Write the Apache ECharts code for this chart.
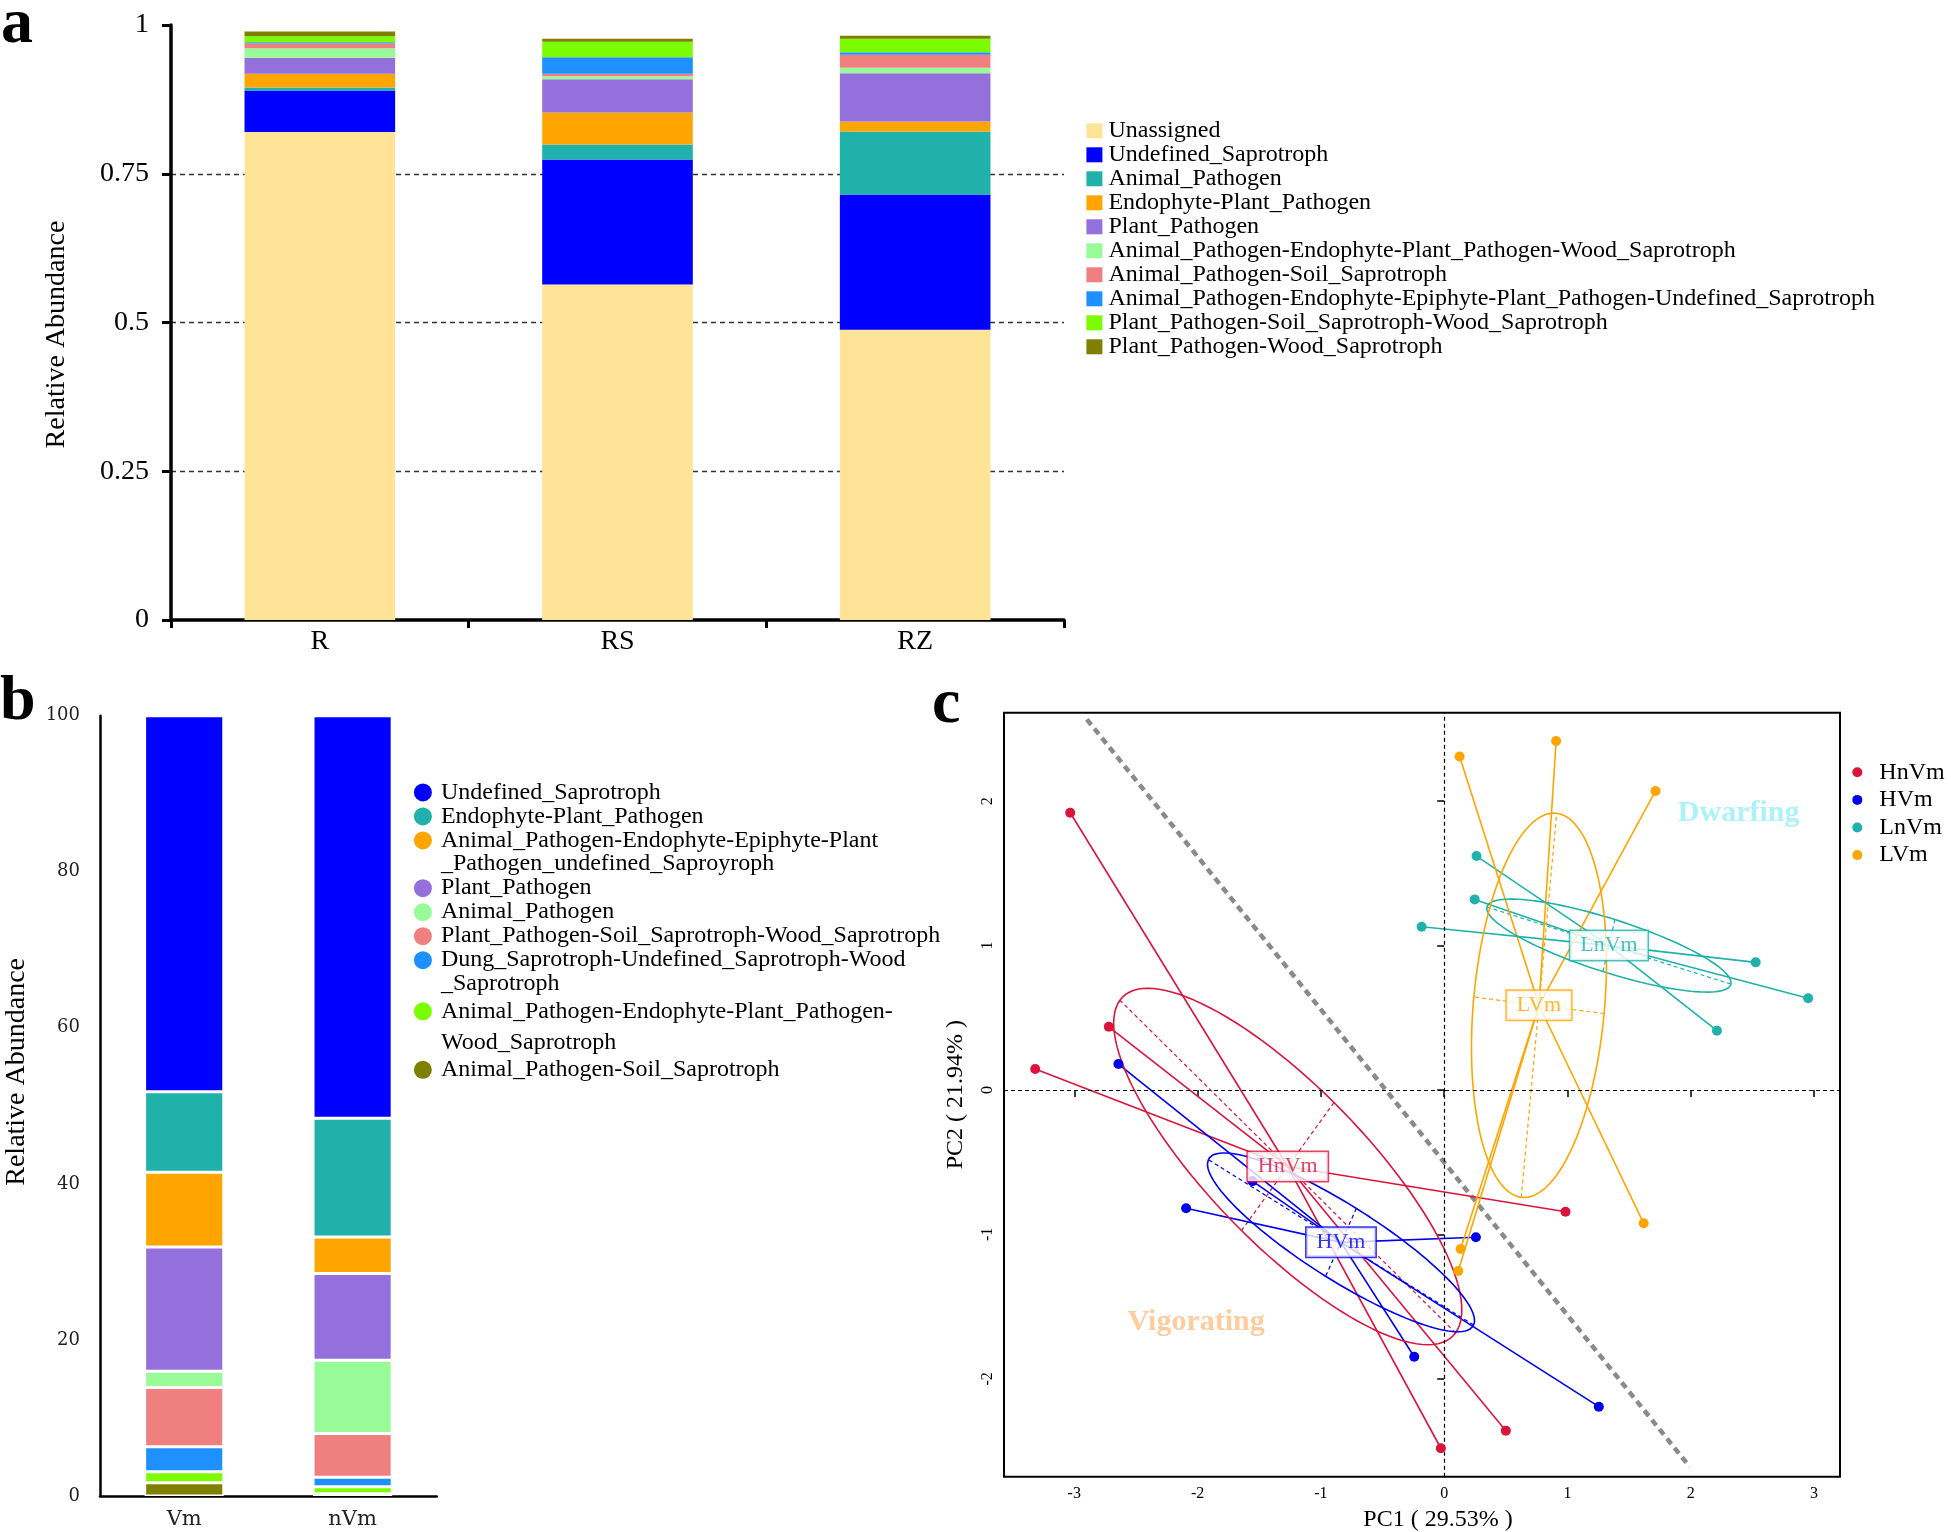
<!DOCTYPE html>
<html><head><meta charset="utf-8">
<script src="https://cdn.jsdelivr.net/npm/echarts@6/dist/echarts.min.js"></script>
<style>html,body{margin:0;padding:0;background:#fff}#c{width:1951px;height:1532px}</style>
</head><body><div id="c"></div>
<script>
// ---------------- Panel a data ----------------
const aCategories = ['R', 'RS', 'RZ'];
const aGuildNames = ['Unassigned', 'Undefined_Saprotroph', 'Animal_Pathogen', 'Endophyte-Plant_Pathogen', 'Plant_Pathogen',
  'Animal_Pathogen-Endophyte-Plant_Pathogen-Wood_Saprotroph', 'Animal_Pathogen-Soil_Saprotroph',
  'Animal_Pathogen-Endophyte-Epiphyte-Plant_Pathogen-Undefined_Saprotroph',
  'Plant_Pathogen-Soil_Saprotroph-Wood_Saprotroph', 'Plant_Pathogen-Wood_Saprotroph'];
const aUnassigned = [0.820, 0.564, 0.488];
const aUndefinedSaprotroph = [0.070, 0.210, 0.227];
const aAnimalPathogen = [0.005, 0.025, 0.106];
const aEndophytePlantPathogen = [0.023, 0.054, 0.017];
const aPlantPathogen = [0.027, 0.056, 0.081];
const aAPEndoPPWood = [0.016, 0.005, 0.009];
const aAPSoil = [0.008, 0.004, 0.022];
const aAPEndoEpiPPUndef = [0.002, 0.028, 0.004];
const aPPSoilWood = [0.010, 0.026, 0.023];
const aPPWood = [0.008, 0.005, 0.005];
const aYTicks = [0, 0.25, 0.5, 0.75, 1];

// ---------------- Panel b data (legend order, top of stack first) ----------------
const bCategories = ['Vm', 'nVm'];
const bNames = ['Undefined_Saprotroph', 'Endophyte-Plant_Pathogen',
  'Animal_Pathogen-Endophyte-Epiphyte-Plant\n_Pathogen_undefined_Saproyroph', 'Plant_Pathogen', 'Animal_Pathogen',
  'Plant_Pathogen-Soil_Saprotroph-Wood_Saprotroph', 'Dung_Saprotroph-Undefined_Saprotroph-Wood\n_Saprotroph',
  'Animal_Pathogen-Endophyte-Plant_Pathogen-\nWood_Saprotroph', 'Animal_Pathogen-Soil_Saprotroph'];
const bUndefinedSaprotroph = [48.2, 51.6];
const bEndophytePlantPathogen = [10.3, 15.2];
const bAPEndoEpiPPUndef = [9.6, 4.7];
const bPlantPathogen = [15.9, 11.1];
const bAnimalPathogen = [2.1, 9.4];
const bPPSoilWood = [7.6, 5.6];
const bDungUndefWood = [3.2, 1.2];
const bAPEndoPPWood = [1.4, 0.9];
const bAPSoil = [1.7, 0.3];

// ---------------- Panel c data ----------------
const pcaGroups = ['HnVm', 'HVm', 'LnVm', 'LVm'];
const hnvmPC1 = [-3.033, -2.720, -3.317, 0.984, 0.500, -0.027];
const hnvmPC2 = [1.920, 0.438, 0.145, -0.843, -2.359, -2.481];
const hvmPC1 = [-2.642, -2.093, -1.555, -0.243, 0.257, 1.254];
const hvmPC2 = [0.180, -0.819, -0.631, -1.847, -1.020, -2.193];
const lnvmPC1 = [-0.183, 0.262, 0.247, 2.526, 2.952, 2.212];
const lnvmPC2 = [1.131, 1.620, 1.320, 0.884, 0.635, 0.411];
const lvmPC1 = [0.125, 0.908, 1.714, 1.618, 0.133, 0.114];
const lvmPC2 = [2.310, 2.417, 2.071, -0.923, -1.101, -1.253];
const pc1Ticks = [-3, -2, -1, 0, 1, 2, 3];
const pc2Ticks = [-2, -1, 0, 1, 2];
const dividerPC1 = [-2.898, 1.991];
const dividerPC2 = [2.567, -2.609];
const annotText = ['Dwarfing', 'Vigorating'];
const annotPC1 = [2.388, -2.012];
const annotPC2 = [1.916, -1.609];

// ---------------- styles ----------------
const FONT = '"Liberation Serif","Times New Roman",Times,serif';
const WIDE = '"DejaVu Serif",serif';
const aColors = ['#FFE497', '#0000FF', '#20B2AA', '#FFA500', '#9370DB', '#98FB98', '#F08080', '#1E90FF', '#7CFC00', '#808000'];
const bColors = ['#0000FF', '#20B2AA', '#FFA500', '#9370DB', '#98FB98', '#F08080', '#1E90FF', '#7CFC00', '#808000'];
const pcaColors = ['#DC143C', '#0000EE', '#20B2AA', '#FFA500'];
const annotColors = ['#97F0F8', '#FFBF86'];
const ELLIPSE_SCALE = 0.79;

const aValues = [aUnassigned, aUndefinedSaprotroph, aAnimalPathogen, aEndophytePlantPathogen, aPlantPathogen,
  aAPEndoPPWood, aAPSoil, aAPEndoEpiPPUndef, aPPSoilWood, aPPWood];
const bValues = [bUndefinedSaprotroph, bEndophytePlantPathogen, bAPEndoEpiPPUndef, bPlantPathogen, bAnimalPathogen,
  bPPSoilWood, bDungUndefWood, bAPEndoPPWood, bAPSoil];
const pcaX = [hnvmPC1, hvmPC1, lnvmPC1, lvmPC1];
const pcaY = [hnvmPC2, hvmPC2, lnvmPC2, lvmPC2];

function groupStats(xs, ys, k) {
  const n = xs.length;
  const mx = xs.reduce((s, v) => s + v, 0) / n;
  const my = ys.reduce((s, v) => s + v, 0) / n;
  let sxx = 0, syy = 0, sxy = 0;
  for (let i = 0; i < n; i++) {
    const dx = xs[i] - mx, dy = ys[i] - my;
    sxx += dx * dx; syy += dy * dy; sxy += dx * dy;
  }
  sxx /= n; syy /= n; sxy /= n;
  const tr = sxx + syy, det = sxx * syy - sxy * sxy;
  const disc = Math.sqrt(Math.max(tr * tr / 4 - det, 0));
  const l1 = tr / 2 + disc, l2 = Math.max(tr / 2 - disc, 0);
  let v1 = Math.abs(sxy) > 1e-12 ? [sxy, l1 - sxx] : (sxx >= syy ? [1, 0] : [0, 1]);
  const len = Math.hypot(v1[0], v1[1]);
  v1 = [v1[0] / len, v1[1] / len];
  const v2 = [-v1[1], v1[0]];
  const a = k * Math.sqrt(l1), b = k * Math.sqrt(l2);
  const pts = [];
  for (let t = 0; t <= 120; t++) {
    const th = t / 120 * 2 * Math.PI;
    const c = Math.cos(th), s = Math.sin(th);
    pts.push([mx + a * c * v1[0] + b * s * v2[0], my + a * c * v1[1] + b * s * v2[1]]);
  }
  return {
    mx, my, pts,
    major: [[mx - a * v1[0], my - a * v1[1]], [mx + a * v1[0], my + a * v1[1]]],
    minor: [[mx - b * v2[0], my - b * v2[1]], [mx + b * v2[0], my + b * v2[1]]]
  };
}

const series = [];
aGuildNames.forEach((n, i) => {
  series.push({
    name: n, type: 'bar', stack: 'a', xAxisIndex: 0, yAxisIndex: 0, barWidth: '50.6%',
    data: aValues[i], itemStyle: { color: aColors[i] }
  });
});
for (let i = bNames.length - 1; i >= 0; i--) {
  series.push({
    name: 'b' + i, type: 'bar', stack: 'b', xAxisIndex: 1, yAxisIndex: 1, barWidth: '47%',
    data: bValues[i], itemStyle: { color: bColors[i], borderColor: '#fff', borderWidth: 1.5 }
  });
}
series.push({
  name: 'divider', type: 'line', xAxisIndex: 2, yAxisIndex: 2, showSymbol: false, silent: true, z: 1,
  data: dividerPC1.map((x, i) => [x, dividerPC2[i]]),
  lineStyle: { color: '#8a8a8a', width: 4.5, type: [7, 5] },
  markLine: {
    silent: true, symbol: ['none', 'none'], label: { show: false },
    lineStyle: { color: '#000', width: 1.2, type: [4, 3] },
    data: [{ xAxis: 0 }, { yAxis: 0 }]
  }
});
pcaGroups.forEach((g, gi) => {
  const xs = pcaX[gi], ys = pcaY[gi], col = pcaColors[gi];
  const st = groupStats(xs, ys, ELLIPSE_SCALE);
  series.push({
    name: g + ' ellipse', type: 'line', xAxisIndex: 2, yAxisIndex: 2, showSymbol: false, silent: true, z: 3,
    data: st.pts, lineStyle: { color: col, width: 1.6 }
  });
  series.push({
    name: g + ' axes', type: 'lines', coordinateSystem: 'cartesian2d', xAxisIndex: 2, yAxisIndex: 2, silent: true, z: 3,
    data: [{ coords: st.major }, { coords: st.minor }],
    lineStyle: { color: col, width: 1.2, type: [4, 3], opacity: 1 }
  });
  series.push({
    name: g + ' spider', type: 'lines', coordinateSystem: 'cartesian2d', xAxisIndex: 2, yAxisIndex: 2, silent: true, z: 3,
    data: xs.map((x, i) => ({ coords: [[st.mx, st.my], [x, ys[i]]] })),
    lineStyle: { color: col, width: 1.6, type: 'solid', opacity: 1 }
  });
  series.push({
    name: g, type: 'scatter', xAxisIndex: 2, yAxisIndex: 2, symbolSize: 10, z: 5,
    data: xs.map((x, i) => [x, ys[i]]), itemStyle: { color: col, opacity: 1 }
  });
  series.push({
    name: g + ' label', type: 'scatter', xAxisIndex: 2, yAxisIndex: 2, symbolSize: 0, z: 10, silent: true,
    data: [[st.mx, st.my]],
    label: {
      show: true, position: 'inside', formatter: g, color: col, fontFamily: FONT, fontSize: 22,
      backgroundColor: '#fff', borderColor: col, borderWidth: 1.5, padding: [4, 10, 3, 10]
    }
  });
});
series.push({
  name: 'annotations', type: 'scatter', xAxisIndex: 2, yAxisIndex: 2, symbolSize: 0, z: 9, silent: true,
  data: annotText.map((t, i) => ({
    value: [annotPC1[i], annotPC2[i]],
    label: { show: true, position: 'inside', formatter: t, color: annotColors[i], fontFamily: FONT, fontSize: 30, fontWeight: 'bold' }
  }))
});

const dotTwoLine = 'path://M0,9A9,9,0,1,1,18,9A9,9,0,1,1,0,9ZM9,41.7L9.01,41.7Z';
const dotWideTwoLine = 'path://M0,9A9,9,0,1,1,18,9A9,9,0,1,1,0,9ZM9,49L9.01,49Z';
const bLegendData = bNames.map((n, i) => {
  const lines = n.split('\n').length;
  const wide = i === 7;
  return {
    name: 'b' + i,
    icon: lines > 1 ? (wide ? dotWideTwoLine : dotTwoLine) : 'circle',
    textStyle: wide ? { lineHeight: 31 } : {}
  };
});

const option = {
  animation: false,
  backgroundColor: '#fff',
  graphic: [
    { type: 'text', x: 1, y: 25, style: { text: 'a', fontSize: 64, fontWeight: 'bold', fontFamily: FONT, fill: '#000', verticalAlign: 'middle' } },
    { type: 'text', x: 0, y: 702, style: { text: 'b', fontSize: 64, fontWeight: 'bold', fontFamily: FONT, fill: '#000', verticalAlign: 'middle' } },
    { type: 'text', x: 932, y: 705, style: { text: 'c', fontSize: 64, fontWeight: 'bold', fontFamily: FONT, fill: '#000', verticalAlign: 'middle' } }
  ],
  grid: [
    { left: 171, top: 25, width: 893, height: 595, outerBoundsMode: 'none', containLabel: false },
    { left: 100, top: 715.7, width: 336.8, height: 780.3, outerBoundsMode: 'none', containLabel: false },
    { left: 1004, top: 712.7, width: 836, height: 764, show: true, borderColor: '#000', borderWidth: 2, outerBoundsMode: 'none', containLabel: false }
  ],
  xAxis: [
    {
      gridIndex: 0, type: 'category', data: aCategories, boundaryGap: true,
      axisLine: { lineStyle: { color: '#000', width: 3.5 } },
      axisTick: { show: true, length: 8, lineStyle: { color: '#000', width: 3 } },
      axisLabel: { fontFamily: FONT, fontSize: 28, color: '#000', margin: 8 }
    },
    {
      gridIndex: 1, type: 'category', data: bCategories,
      axisLine: { lineStyle: { color: '#000', width: 2.5 } },
      axisTick: { show: false },
      axisLabel: { fontFamily: WIDE, fontSize: 21, color: '#222', margin: 13 }
    },
    {
      gridIndex: 2, type: 'value', min: -3.57, max: 3.21,
      axisLine: { show: false }, splitLine: { show: false },
      axisTick: { show: true, customValues: pc1Ticks, length: 7, lineStyle: { color: '#000', width: 1.5 } },
      axisLabel: { customValues: pc1Ticks, fontFamily: FONT, fontSize: 16, color: '#000', margin: 9 },
      name: 'PC1 ( 29.53% )', nameLocation: 'middle', nameGap: 31,
      nameTextStyle: { fontFamily: FONT, fontSize: 24, color: '#000', padding: [0, 0, 0, 32] }
    }
  ],
  yAxis: [
    {
      gridIndex: 0, type: 'value', min: 0, max: 1, interval: 0.25,
      axisLine: { show: true, lineStyle: { color: '#000', width: 3.5 } },
      axisTick: { show: true, length: 9, lineStyle: { color: '#000', width: 3 } },
      axisLabel: { customValues: aYTicks, fontFamily: FONT, fontSize: 28, color: '#000', margin: 22 },
      splitLine: { show: true, showMinLine: false, showMaxLine: false, lineStyle: { color: '#333', width: 1.3, type: [5, 4] } },
      name: 'Relative Abundance', nameLocation: 'middle', nameGap: 100,
      nameTextStyle: { fontFamily: FONT, fontSize: 28, color: '#000', padding: [0, 24, 0, 0] }
    },
    {
      gridIndex: 1, type: 'value', min: 0, max: 100, interval: 20,
      axisLine: { show: true, lineStyle: { color: '#000', width: 2.5 } },
      axisTick: { show: false }, splitLine: { show: false },
      axisLabel: { fontFamily: WIDE, fontSize: 18, color: '#222', margin: 20 },
      name: 'Relative Abundance', nameLocation: 'middle', nameGap: 69,
      nameTextStyle: { fontFamily: FONT, fontSize: 28, color: '#000', padding: [0, 0, 0, 68] }
    },
    {
      gridIndex: 2, type: 'value', min: -2.678, max: 2.613,
      axisLine: { show: false }, splitLine: { show: false },
      axisTick: { show: true, customValues: pc2Ticks, length: 7, lineStyle: { color: '#000', width: 1.5 } },
      axisLabel: { customValues: pc2Ticks, rotate: 90, fontFamily: FONT, fontSize: 16, color: '#000', margin: 8 },
      name: 'PC2 ( 21.94% )', nameLocation: 'middle', nameGap: 36,
      nameTextStyle: { fontFamily: FONT, fontSize: 24, color: '#000' }
    }
  ],
  legend: [
    {
      orient: 'vertical', left: 1086.4, top: 118.8, padding: 0, itemGap: 0, itemWidth: 16, itemHeight: 15,
      icon: 'rect', data: aGuildNames, selectedMode: false,
      textStyle: { fontFamily: FONT, fontSize: 24, color: '#000', lineHeight: 23.7, padding: [0, 0, 0, 1] }
    },
    {
      orient: 'vertical', left: 413.9, top: 780.45, padding: 0, itemGap: 0, itemWidth: 18, itemHeight: 50,
      data: bLegendData, selectedMode: false, itemStyle: { borderWidth: 0 },
      formatter: (name) => bNames[Number(name.slice(1))],
      textStyle: { fontFamily: FONT, fontSize: 24, color: '#000', lineHeight: 23.7, padding: [0, 0, 0, 4] }
    },
    {
      orient: 'vertical', left: 1852.3, top: 758.5, padding: 0, itemGap: 0, itemWidth: 10, itemHeight: 10,
      icon: 'circle', data: pcaGroups, selectedMode: false,
      textStyle: { fontFamily: FONT, fontSize: 24, color: '#000', lineHeight: 27.6, padding: [0, 0, 0, 12] }
    }
  ],
  series: series
};

const chart = echarts.init(document.getElementById('c'), null, { renderer: 'canvas' });
chart.setOption(option);
</script>
</body></html>
